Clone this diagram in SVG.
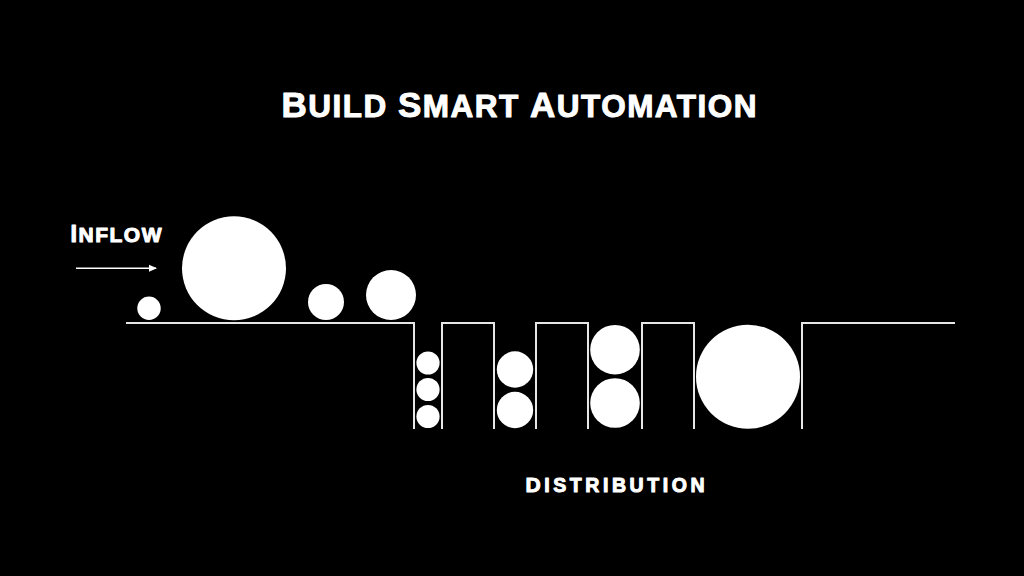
<svg xmlns="http://www.w3.org/2000/svg" width="1024" height="576" viewBox="0 0 1024 576">
  <style>
    .lbl { font-family: "Liberation Sans", Arial, sans-serif; font-weight: bold; fill: #ffffff; stroke: #ffffff; stroke-width: 1; stroke-linejoin: round; }
    .ball { fill: #ffffff; }
    .track { fill: none; stroke: #e6e6e6; stroke-width: 2; }
  </style>
  <defs>
    <marker id="ah" markerWidth="8" markerHeight="8" refX="7" refY="4" orient="auto" markerUnits="userSpaceOnUse">
      <path d="M0,0.5 L8,4 L0,7.5 Z" fill="#ffffff"/>
    </marker>
  </defs>
  <rect width="1024" height="576" fill="#000000"/>

  <g id="title">
    <text class="lbl" x="281.5" y="117" textLength="475" lengthAdjust="spacing"><tspan font-size="35">B</tspan><tspan font-size="31.5">UILD </tspan><tspan font-size="35">S</tspan><tspan font-size="31.5">MART </tspan><tspan font-size="35">A</tspan><tspan font-size="31.5">UTOMATION</tspan></text>
  </g>

  <g id="inflow">
    <text class="lbl" x="70.5" y="242" textLength="91" lengthAdjust="spacing"><tspan font-size="23.5">I</tspan><tspan font-size="21">NFLOW</tspan></text>
  </g>

  <g id="distribution">
    <text class="lbl" x="525.5" y="491.5" textLength="179" lengthAdjust="spacing"><tspan font-size="21">D</tspan><tspan font-size="19.5">ISTRIBUTION</tspan></text>
  </g>

  <g id="connectors">
    <line x1="76" y1="268.3" x2="156" y2="268.3" stroke="#ffffff" stroke-width="1.6" marker-end="url(#ah)"/>
    <path class="track" d="M126 323 H414 V429 M442 429 V323 H494 V429 M536 429 V323 H588 V429 M642 429 V323 H694 V429 M802 429 V323 H955"/>
  </g>

  <g id="inflow-balls">
    <circle class="ball" cx="149" cy="308.3" r="11.7"/>
    <circle class="ball" cx="234" cy="268.3" r="52"/>
    <circle class="ball" cx="326" cy="302" r="18"/>
    <circle class="ball" cx="391" cy="295" r="25"/>
  </g>

  <g id="bin-1">
    <circle class="ball" cx="428" cy="363" r="11.6"/>
    <circle class="ball" cx="428" cy="389.5" r="11.6"/>
    <circle class="ball" cx="428" cy="416.5" r="11.6"/>
  </g>
  <g id="bin-2">
    <circle class="ball" cx="515" cy="369.5" r="18.2"/>
    <circle class="ball" cx="515" cy="410" r="18.2"/>
  </g>
  <g id="bin-3">
    <circle class="ball" cx="615" cy="349.7" r="24.8"/>
    <circle class="ball" cx="615" cy="403" r="24.8"/>
  </g>
  <g id="bin-4">
    <circle class="ball" cx="748" cy="376.7" r="52"/>
  </g>
</svg>
